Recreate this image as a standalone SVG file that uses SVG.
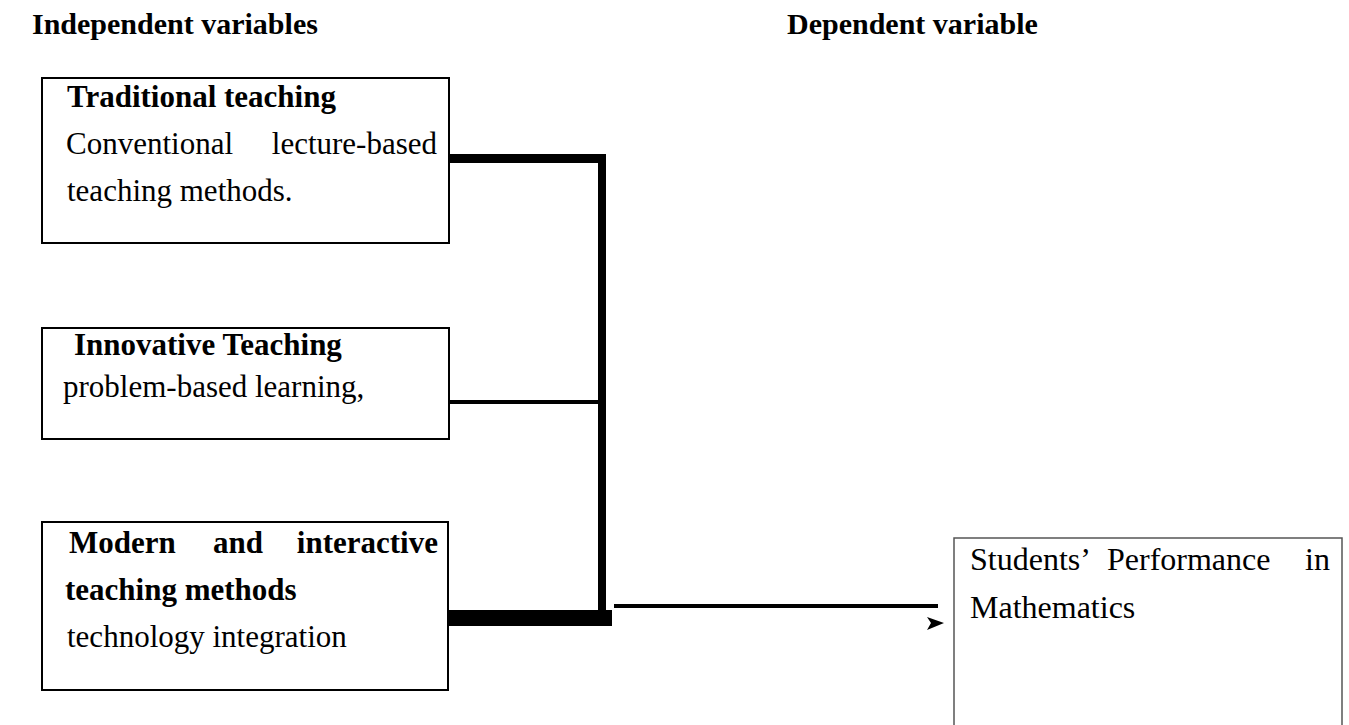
<svg xmlns="http://www.w3.org/2000/svg" width="1349" height="725" viewBox="0 0 1349 725">
<style>
.t{font-family:"Liberation Serif","Times New Roman",serif;font-size:31px;fill:#000}
.h{font-size:30px}
.s{font-size:32px}
.b{font-weight:bold}
.box{fill:#fff;stroke:#000;stroke-width:2}
.box4{fill:#fff;stroke:#555;stroke-width:1.5}
</style>
<rect width="1349" height="725" fill="#fff"/>
<text class="t h b" x="32" y="34">Independent variables</text>
<text class="t h b" x="787" y="34">Dependent variable</text>
<g id="traditional">
<rect class="box" x="42" y="78" width="407" height="165"/>
<text class="t b" x="67" y="107">Traditional teaching</text>
<text class="t" x="66" y="154">Conventional</text>
<text class="t" x="437" y="154" text-anchor="end">lecture-based</text>
<text class="t" x="67" y="201">teaching methods.</text>
</g>
<g id="innovative">
<rect class="box" x="42" y="328" width="407" height="111"/>
<text class="t b" x="74" y="355">Innovative Teaching</text>
<text class="t" x="63" y="397">problem-based learning,</text>
</g>
<g id="modern">
<rect class="box" x="42" y="522" width="406" height="168"/>
<text class="t b" x="69" y="553">Modern</text>
<text class="t b" x="238" y="553" text-anchor="middle">and</text>
<text class="t b" x="438" y="553" text-anchor="end">interactive</text>
<text class="t b" x="65" y="600">teaching methods</text>
<text class="t" x="67" y="647">technology integration</text>
</g>
<g id="performance">
<rect class="box4" x="954" y="538" width="388" height="200"/>
<text class="t s" x="970" y="570">Students’</text>
<text class="t s" x="1107" y="570">Performance</text>
<text class="t s" x="1330" y="570" text-anchor="end">in</text>
<text class="t s" x="970" y="618">Mathematics</text>
</g>
<g id="connectors" fill="#000">
<rect x="449" y="154" width="156" height="9"/>
<rect x="598" y="154" width="8" height="472"/>
<rect x="449" y="400" width="149" height="4"/>
<rect x="449" y="610" width="163" height="16"/>
<rect x="614" y="604" width="324" height="4"/>
<polygon points="927,617 944,623 927,630 931,623"/>
</g>
</svg>
